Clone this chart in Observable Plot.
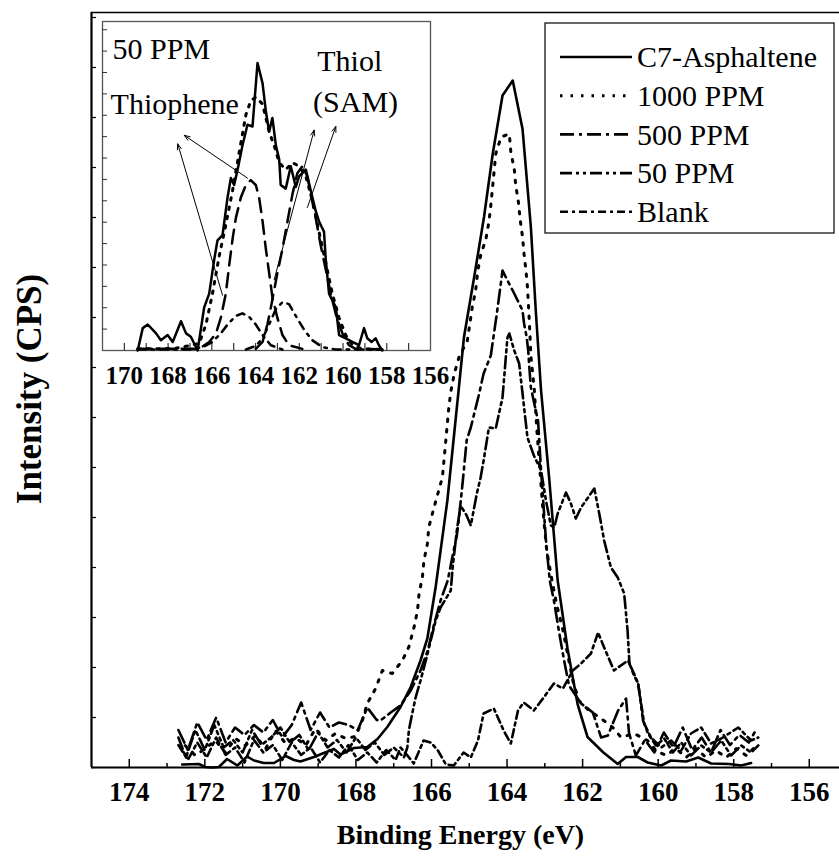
<!DOCTYPE html>
<html><head><meta charset="utf-8">
<script src="https://cdn.jsdelivr.net/npm/d3@7"></script>
<script src="https://cdn.jsdelivr.net/npm/@observablehq/plot@0.6"></script>
<style>
body{margin:0;background:#fff;}
#wrap{position:relative;width:839px;height:856px;}
#inset{position:absolute;left:96px;top:15px;}
</style></head><body><div id="wrap"><div id="main"></div><div id="inset"></div></div>
<script>
// ---------- main chart data (binding energy eV, intensity arb. units) ----------
const c7Energy = [172.60,172.16,171.99,171.81,171.63,171.41,171.14,170.88,170.70,170.44,170.17,169.86,169.64,169.47,169.11,168.85,168.58,168.41,168.05,167.70,167.43,167.17,166.82,166.55,166.29,166.11,165.89,165.58,165.31,165.14,164.87,164.61,164.38,164.12,163.85,163.59,163.37,163.24,163.10,162.88,162.66,162.40,162.13,161.87,161.45,161.07,160.85,160.54,160.28,159.92,159.66,159.26,158.94,158.60,158.12,157.80,157.54];
const c7Intensity = [0.06,0.07,0.01,0,0.01,0.17,0.04,0.22,0.14,0.09,0.09,0.23,0.15,0.12,0.21,0.29,0.37,0.26,0.39,0.41,0.57,0.81,1.21,1.61,2.14,2.58,3.61,5.34,7.34,8.61,9.81,11.01,12.27,13.44,13.74,12.77,10.81,9.14,7.54,5.74,3.74,2.38,1.26,0.61,0.30,0.07,0.21,0.21,0.10,0.04,0.14,0.12,0.20,0.08,0.07,0.04,0.09];

const ppm1000Energy = [172.52,172.25,171.99,171.72,171.46,171.19,170.92,170.66,170.39,170.13,169.86,169.60,169.33,169.07,168.80,168.54,168.27,168.01,167.83,167.70,167.48,167.30,167.04,166.77,166.60,166.46,166.37,166.33,166.24,166.20,166.11,166.07,165.93,165.71,165.67,165.54,165.49,165.40,165.27,165.05,164.92,164.83,164.78,164.70,164.56,164.48,164.43,164.34,164.30,164.16,163.94,163.90,163.81,163.77,163.70,163.65,163.59,163.55,163.50,163.46,163.41,163.37,163.28,163.21,163.13,163.05,162.95,162.81,162.68,162.52,162.39,162.26,162.10,161.83,161.51,161.20,160.98,160.64,160.28,160.06,159.79,159.53,159.26,159.00,158.73,158.47,158.20,157.93,157.67,157.48];
const ppm1000Intensity = [0.44,0.24,0.38,0.54,0.30,0.58,0.44,0.64,0.38,0.74,0.48,0.60,0.44,0.78,0.54,0.68,0.58,0.62,0.94,1.28,1.58,1.94,1.88,2.14,2.41,2.81,3.14,3.47,3.81,4.14,4.47,4.81,5.21,5.81,6.14,7.21,7.51,7.87,8.21,8.54,9.21,9.54,9.91,10.24,10.57,10.91,11.24,11.94,12.27,12.61,12.67,12.31,11.97,11.64,11.31,10.94,10.61,10.27,9.94,9.61,8.91,8.24,7.57,6.74,5.94,5.14,4.34,3.74,3.24,2.74,2.24,1.74,1.34,1.14,0.98,0.80,0.60,0.68,0.54,0.34,0.24,0.38,0.20,0.38,0.20,0.34,0.20,0.38,0.24,0.38];

const ppm500Energy = [172.70,172.45,172.20,171.95,171.70,171.45,171.20,170.95,170.70,170.45,170.20,169.95,169.70,169.45,169.20,168.95,168.70,168.45,168.20,167.95,167.70,167.45,167.35,167.08,166.82,166.55,166.29,166.10,165.94,165.76,165.57,165.44,165.33,165.28,165.17,165.07,164.96,164.75,164.62,164.43,164.27,164.12,163.99,163.85,163.68,163.59,163.55,163.48,163.44,163.41,163.37,163.24,163.18,163.10,162.97,162.87,162.76,162.63,162.49,162.36,162.04,161.73,161.51,161.33,161.06,160.85,160.77,160.59,160.35,160.10,159.85,159.60,159.35,159.10,158.85,158.60,158.35,158.10,157.85,157.60,157.45];
const ppm500Intensity = [0.75,0.35,0.90,0.55,1.00,0.50,0.80,0.65,0.85,0.70,0.95,0.60,0.85,1.30,0.75,1.10,0.80,0.90,0.85,0.75,1.20,0.95,0.94,1.10,1.24,1.54,1.94,2.34,2.84,3.34,3.74,4.24,4.64,4.94,5.74,6.54,6.80,7.44,7.88,8.24,9.08,9.94,9.74,9.54,9.28,9.14,8.88,8.60,8.34,8.00,7.60,7.14,6.94,5.94,4.54,3.74,3.34,2.74,2.14,1.64,1.28,1.10,0.60,0.64,1.14,1.38,0.68,0.24,0.55,0.30,0.70,0.40,0.80,0.35,0.60,0.30,0.75,0.45,0.65,0.50,0.70];

const ppm50Energy = [172.70,172.50,172.25,172.00,171.75,171.50,171.25,171.00,170.75,170.50,170.25,170.00,169.75,169.50,169.25,169.00,168.75,168.50,168.25,168.00,167.75,167.50,167.25,167.00,166.73,166.64,166.60,166.51,166.42,166.29,166.15,166.02,165.89,165.76,165.49,165.44,165.33,165.23,165.07,164.96,164.80,164.70,164.62,164.48,164.30,164.12,163.99,163.94,163.81,163.68,163.63,163.59,163.46,163.29,163.10,162.97,162.84,162.75,162.66,162.44,162.31,162.18,162.04,161.69,161.56,161.43,161.25,161.07,160.90,160.81,160.76,160.64,160.53,160.40,160.27,160.06,159.84,159.61,159.39,159.13,158.86,158.60,158.33,158.07,157.80,157.54,157.35];
const ppm50Intensity = [0.60,0.20,0.75,0.35,0.85,0.40,0.55,0.30,0.75,0.45,0.60,0.80,0.50,0.65,0.35,0.70,0.40,0.55,0.30,0.60,0.35,0.50,0.25,0.40,0.20,0.40,0.74,1.08,1.40,1.74,2.14,2.54,2.94,3.20,3.54,4.00,4.74,5.24,5.04,4.84,5.48,5.80,6.14,6.80,6.78,7.40,8.60,8.68,8.34,8.08,7.74,7.48,6.60,6.24,5.94,5.34,4.84,4.80,5.08,5.50,5.28,4.98,5.20,5.58,5.08,4.54,4.00,3.80,3.48,2.74,2.08,1.84,1.68,0.94,0.68,0.44,0.58,0.30,0.50,0.24,0.44,0.30,0.54,0.24,0.44,0.30,0.44];

const blankEnergy = [172.70,172.45,172.20,171.95,171.70,171.45,171.20,170.95,170.70,170.45,170.20,169.95,169.70,169.45,169.20,168.95,168.70,168.45,168.20,167.95,167.70,167.45,167.20,166.95,166.82,166.68,166.47,166.21,166.02,165.83,165.62,165.41,165.15,164.96,164.77,164.62,164.35,164.09,163.90,163.71,163.56,163.29,163.03,162.76,162.52,162.26,162.04,161.78,161.59,161.43,161.17,160.80,160.64,160.53,160.37,160.19,159.92,159.66,159.39,159.13,158.86,158.60,158.33,157.88,157.54,157.35];
const blankIntensity = [0.45,0.15,0.50,0.20,0.60,0.25,0.40,0.10,0.55,0.30,0.45,0.15,0.50,0.25,0.40,0.10,0.35,0.20,0.45,0.15,0.30,0.10,0.35,0.15,0.40,0.28,0.08,0.54,0.50,0.34,0.06,0.04,0.30,0.20,0.54,1.08,1.18,0.74,0.48,1.14,1.30,1.14,1.40,1.68,1.58,1.94,2.08,2.28,2.70,2.40,1.94,2.14,1.88,1.68,0.88,0.60,0.40,0.54,0.34,0.68,0.80,0.48,0.58,0.80,0.54,0.60];

const seriesNames = ["C7-Asphaltene","1000 PPM","500 PPM","50 PPM","Blank"];
const xMajorTicks = [174,172,170,168,166,164,162,160,158,156];
const xMinorTicks = [173,171,169,167,165,163,161,159,157];
const yTicks = [0,1,2,3,4,5,6,7,8,9,10,11,12,13,14,15];
const xTitle = "Binding Energy (eV)";
const yTitle = "Intensity (CPS)";

// ---------- inset data (50 PPM with fitted components) ----------
const insetRawEnergy = [169.39,169.16,168.93,168.55,168.33,168.02,167.79,167.41,167.18,166.96,166.65,166.35,166.12,165.89,165.74,165.51,165.28,165.13,164.98,164.82,164.60,164.37,164.14,163.91,163.68,163.53,163.38,163.23,163.07,162.92,162.85,162.62,162.39,162.16,162.01,161.70,161.48,161.25,161.10,160.87,160.79,160.64,160.33,160.18,159.88,159.57,159.27,159.04,158.89,158.69,158.51,158.36,158.20];
const insetRawIntensity = [0,6.8,7.9,5.2,3.1,4.7,2.6,8.9,5.2,4.2,0,13.1,17.3,27.7,33.5,35.1,46.6,52.4,50.3,55.0,62.3,68.6,68.1,87.4,81.2,72.8,66.5,70.7,62.3,58.1,50.3,49.2,56.0,49.7,52.9,55.0,48.7,42.4,39.3,36.1,27.7,17.3,13.1,4.7,3.7,2.6,1.6,6.8,3.7,2.6,3.7,1.6,0];
const envelopeEnergy = [169.39,168.55,167.64,166.58,166.27,165.97,165.66,165.36,165.05,164.75,164.44,164.22,163.99,163.68,163.38,163.15,162.92,162.62,162.31,162.01,161.70,161.40,161.10,160.79,160.49,160.18,159.88,159.57,159.12,158.20];
const envelopeIntensity = [0.5,0.5,0.7,2.1,7.9,17.3,28.8,38.2,48.7,60.2,71.7,75.9,77.0,74.9,66.5,62.3,57.1,55.0,57.1,56.0,52.9,45.5,36.1,26.7,17.3,9.9,4.7,1.6,0.5,0.3];
const thiopheneEnergy = [169.39,166.58,166.12,165.81,165.59,165.36,165.21,165.05,164.90,164.67,164.44,164.22,163.99,163.84,163.68,163.53,163.38,163.23,163.00,162.77,162.47,161.86];
const thiopheneIntensity = [0.5,0.5,2.6,5.2,9.9,17.3,25.7,34.0,40.3,46.6,50.3,51.8,50.3,46.6,39.3,30.9,23.6,16.2,9.9,4.7,1.6,0.5];
const thiolEnergy = [163.99,163.68,163.46,163.30,163.15,163.00,162.77,162.54,162.31,162.09,161.86,161.63,161.48,161.25,161.02,160.79,160.56,160.33,160.03,159.73,159.42,158.20];
const thiolIntensity = [0.5,2.6,7.9,13.1,18.3,23.6,30.9,39.3,47.6,53.9,56.0,52.9,47.6,40.3,31.9,24.6,17.3,11.0,5.2,1.6,0.5,0.4];
const thiopheneMinorEnergy = [169.39,167.03,166.42,165.97,165.59,165.28,164.90,164.60,164.29,163.99,163.68,163.30,162.77];
const thiopheneMinorIntensity = [0.3,0.3,1.0,2.6,5.2,7.9,10.5,11.3,10.2,7.9,4.7,1.6,0.3];
const thiolMinorEnergy = [164.44,163.99,163.68,163.38,163.07,162.77,162.47,162.16,161.78,161.40,160.94,160.33,158.20];
const thiolMinorIntensity = [0.3,1.4,3.7,7.9,12.6,14.7,14.1,10.5,6.3,3.1,1.0,0.3,0.3];
const insetLabelTicks = [170,168,166,164,162,160,158,156];
const insetMinorTicks = [170,169,168,167,166,165,164,163,162,161,160,159,158,157];
const insetYTicks = [6.5,13,19.5,26,32.5,39,45.5,52,58.5,65,71.5,78,84.5,91,97.5];
const insetNotes = [
  {text:"50 PPM", energy:170.54, intensity:91.6},
  {text:"Thiophene", energy:170.63, intensity:74.9},
  {text:"Thiol", energy:161.18, intensity:88.0},
  {text:"(SAM)", energy:161.37, intensity:75.4}
];
const insetArrows = [
  {e1:164.37, i1:52.4, e2:167.26, i2:65.4},
  {e1:165.51, i1:16.8, e2:167.56, i2:62.8},
  {e1:163.15, i1:21.5, e2:161.32, i2:67.0},
  {e1:161.63, i1:43.5, e2:160.33, i2:68.1}
];

// ---------- helpers & styles ----------
const rows = (E, I) => E.map((e, i) => ({energy: e, intensity: I[i]}));
const serif = "Liberation Serif";
const styles = {
  "C7-Asphaltene": {dash: null, w: 2.6},
  "1000 PPM": {dash: "2.5,8", w: 3},
  "500 PPM": {dash: "14,5,3,5", w: 2.6},
  "50 PPM": {dash: "12,4,3,4,3,4", w: 2.6},
  "Blank": {dash: "8,4,3,4", w: 2.6}
};
const seriesData = {
  "C7-Asphaltene": rows(c7Energy, c7Intensity),
  "1000 PPM": rows(ppm1000Energy, ppm1000Intensity),
  "500 PPM": rows(ppm500Energy, ppm500Intensity),
  "50 PPM": rows(ppm50Energy, ppm50Intensity),
  "Blank": rows(blankEnergy, blankIntensity)
};
const lineMark = (name) => Plot.line(seriesData[name], {
  x: "energy", y: "intensity", stroke: "black",
  strokeWidth: styles[name].w, strokeDasharray: styles[name].dash || undefined,
  strokeLinejoin: "round"
});

const PH = 856 - 12 - 89, PW = 839 - 91;
const main = Plot.plot({
  width: 839, height: 856,
  marginTop: 12, marginLeft: 91, marginRight: 0, marginBottom: 89,
  x: {domain: [175, 155.2], axis: null},
  y: {domain: [0, 15.1], axis: null},
  style: "background: white; color: black; overflow: visible; font-family: 'Liberation Serif';",
  marks: [
    Plot.ruleY([15.1], {stroke: "black", strokeWidth: 1.5}),
    Plot.ruleX([175], {stroke: "black", strokeWidth: 2.2}),
    Plot.ruleY([0], {stroke: "black", strokeWidth: 2.2}),
    Plot.tickX(xMajorTicks, {x: d => d, stroke: "black", strokeWidth: 1.5, insetTop: PH - 8}),
    Plot.tickX(xMinorTicks, {x: d => d, stroke: "black", strokeWidth: 1.5, insetTop: PH - 4}),
    Plot.tickY(yTicks, {y: d => d, stroke: "black", strokeWidth: 1.2, insetRight: PW - 5}),
    Plot.text(xMajorTicks, {x: d => d, y: 0, text: d => String(d), dy: 25, fontSize: 27, fontWeight: "bold", fill: "black", fontFamily: serif}),
    Plot.text([xTitle], {frameAnchor: "bottom", text: d => d, dy: 68, dx: -5, lineAnchor: "middle", textAnchor: "middle", fontSize: 28, fontWeight: "bold", fill: "black", fontFamily: serif}),
    Plot.text([yTitle], {frameAnchor: "left", text: d => d, rotate: -90, dx: -62, dy: -1, lineAnchor: "middle", textAnchor: "middle", fontSize: 35, fontWeight: "bold", fill: "black", fontFamily: serif}),
    lineMark("Blank"),
    lineMark("50 PPM"),
    lineMark("500 PPM"),
    lineMark("1000 PPM"),
    lineMark("C7-Asphaltene")
  ]
});
document.getElementById("main").appendChild(main);

// legend inside the plot (top-right)
const svg = d3.select(main);
const lg = svg.append("g").attr("font-family", serif).attr("font-size", 30).attr("text-anchor", "start");
lg.append("rect").attr("x", 545).attr("y", 23).attr("width", 289).attr("height", 210)
  .attr("fill", "white").attr("stroke", "black").attr("stroke-width", 1.2);
seriesNames.forEach((name, i) => {
  const cy = 57 + i * 38.7;
  lg.append("line").attr("x1", 560).attr("x2", 632).attr("y1", cy).attr("y2", cy)
    .attr("stroke", "black").attr("stroke-width", styles[name].w)
    .attr("stroke-dasharray", styles[name].dash);
  lg.append("text").attr("x", 637).attr("y", cy).attr("dy", "0.34em").attr("fill", "black")
    .attr("font-family", serif).attr("text-anchor", "start").text(name);
});

// ---------- inset ----------
const IPH = 329, IPW = 328;
const inset = Plot.plot({
  width: 345, height: 380,
  marginLeft: 6, marginTop: 6, marginRight: 11, marginBottom: 45,
  x: {domain: [171, 156], axis: null},
  y: {domain: [0, 100], axis: null},
  style: "background: transparent; color: black; overflow: visible; font-family: 'Liberation Serif';",
  marks: [
    Plot.frame({fill: "white", stroke: "#555", strokeWidth: 1.3}),
    Plot.tickX(insetMinorTicks, {x: d => d, stroke: "#333", strokeWidth: 1.2, insetTop: IPH - 7}),
    Plot.tickY(insetYTicks, {y: d => d, stroke: "#333", strokeWidth: 1, insetRight: IPW - 5}),
    Plot.text(insetLabelTicks, {x: d => d, y: 0, text: d => String(d), dy: 25, fontSize: 25, fontWeight: "bold", fill: "black", fontFamily: serif}),
    Plot.line(rows(thiopheneMinorEnergy, thiopheneMinorIntensity), {x: "energy", y: "intensity", stroke: "black", strokeWidth: 2.5, strokeDasharray: "8,6,2.5,6"}),
    Plot.line(rows(thiolMinorEnergy, thiolMinorIntensity), {x: "energy", y: "intensity", stroke: "black", strokeWidth: 2.5, strokeDasharray: "8,6,2.5,6"}),
    Plot.line(rows(thiopheneEnergy, thiopheneIntensity), {x: "energy", y: "intensity", stroke: "black", strokeWidth: 2.5, strokeDasharray: "14,8"}),
    Plot.line(rows(thiolEnergy, thiolIntensity), {x: "energy", y: "intensity", stroke: "black", strokeWidth: 2.5, strokeDasharray: "14,8"}),
    Plot.line(rows(envelopeEnergy, envelopeIntensity), {x: "energy", y: "intensity", stroke: "black", strokeWidth: 3, strokeDasharray: "2.5,7"}),
    Plot.line(rows(insetRawEnergy, insetRawIntensity), {x: "energy", y: "intensity", stroke: "black", strokeWidth: 2.5, strokeLinejoin: "round"}),
    Plot.arrow(insetArrows, {x1: "e1", y1: "i1", x2: "e2", y2: "i2", stroke: "black", strokeWidth: 1, headLength: 9, headAngle: 40}),
    Plot.text(insetNotes, {x: "energy", y: "intensity", text: "text", textAnchor: "start", fontSize: 30, fill: "black", fontFamily: serif})
  ]
});
document.getElementById("inset").appendChild(inset);
</script></body></html>
